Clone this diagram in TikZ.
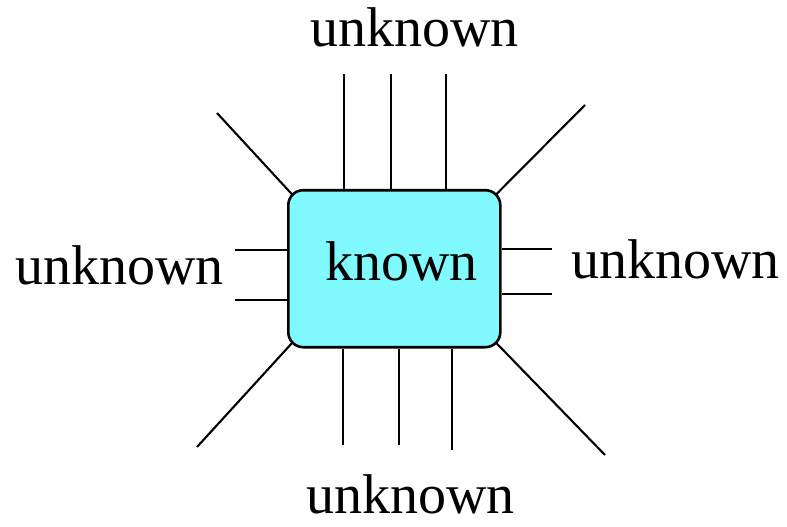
\documentclass[tikz,border=0pt]{standalone}
\usepackage{fontspec}
\setmainfont{Liberation Serif}
\usetikzlibrary{backgrounds}
\definecolor{boxcyan}{RGB}{128,250,255}
\tikzset{
  lead/.style={line width=2.6pt, black},
  diag/.style={line width=2.1pt, black, shorten >=-12pt},
  lbl/.style={font=\fontsize{56}{60}\selectfont, inner sep=0pt, anchor=base west},
  chip/.style={draw=black, line width=2.6pt, fill=boxcyan, rounded corners=15pt,
    minimum width=212pt, minimum height=157pt, inner sep=0pt}
}
\begin{document}
\begin{tikzpicture}[x=1pt,y=-1pt]
\useasboundingbox (0,0) rectangle (787,527);
\node[chip] (box) at (394.3,268.7) {};
\node[lbl] (known) at (325,280) {known};
\node[lbl] (utop) at (310,47) {unknown};
\node[lbl] (ubot) at (306,513) {unknown};
\node[lbl] (uleft) at (15,284) {unknown};
\node[lbl] (uright) at (571,278) {unknown};
% outer ends
\coordinate (t1) at (344,74);
\coordinate (t2) at (391,74);
\coordinate (t3) at (446,74);
\coordinate (b1) at (343,445);
\coordinate (b2) at (399,445);
\coordinate (b3) at (452,450);
\coordinate (l1) at (235,250);
\coordinate (l2) at (235,300);
\coordinate (r1) at (552,249);
\coordinate (r2) at (552,294);
\coordinate (dtl) at (217,113);
\coordinate (dtr) at (585,105);
\coordinate (dbl) at (197,447);
\coordinate (dbr) at (605,455);
\begin{scope}[on background layer]
\foreach \c in {t1,t2,t3} \draw[lead] (\c) -- (\c |- box.north);
\foreach \c in {b1,b2,b3} \draw[lead] (\c) -- (\c |- box.south);
\foreach \c in {l1,l2} \draw[lead] (\c) -- (\c -| box.west);
\foreach \c in {r1,r2} \draw[lead] (\c) -- (\c -| box.east);
\draw[diag] (dtl) -- (box.north west);
\draw[diag] (dtr) -- (box.north east);
\draw[diag] (dbl) -- (box.south west);
\draw[diag] (dbr) -- (box.south east);
\end{scope}
\end{tikzpicture}
\end{document}
